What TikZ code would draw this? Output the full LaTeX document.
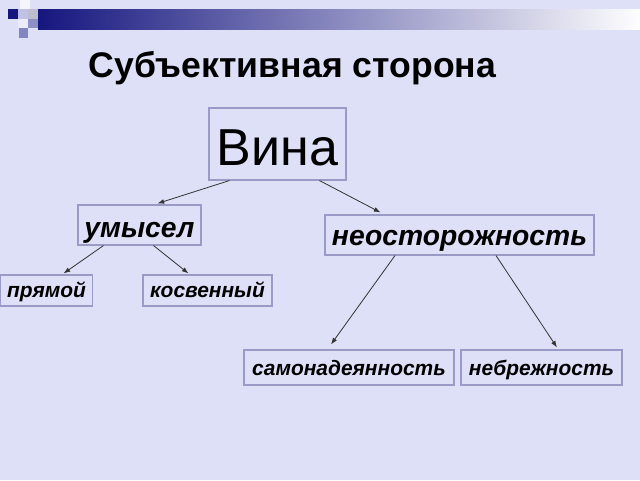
\documentclass[tikz,border=0pt]{standalone}
\usepackage{fontspec}
\setmainfont{Liberation Sans}
\usepackage{xcolor}
\usepackage{tikz}
\usetikzlibrary{calc,arrows.meta}
\definecolor{slidebg}{HTML}{DDE0F6}
\definecolor{navy}{HTML}{16167F}
\definecolor{boxline}{HTML}{9A9AC6}
\definecolor{arrowgray}{HTML}{333333}
\tikzset{
  box/.style={draw=boxline, line width=0.8pt, inner sep=0pt},
  bigtext/.style={font=\fontsize{21.2}{25}\selectfont\bfseries\itshape},
  smalltext/.style={font=\fontsize{15.7}{19}\selectfont\bfseries\itshape},
  link/.style={draw=arrowgray, line width=0.6pt, -{Latex[length=5pt,width=3.6pt]}}
}

\begin{document}
\begin{tikzpicture}[x=0.75pt,y=-0.75pt]
\useasboundingbox (0,0) rectangle (640,480);
\fill[slidebg] (0,0) rectangle (640,480);
\shade[left color=navy, right color=white!96!slidebg] (38,9) rectangle (640,29);
\fill[navy] (8,9) rectangle (18,19);
\fill[white!70!slidebg] (20,0) rectangle (30,9);
\fill[slidebg!85!navy] (18,9) rectangle (28,19);
\fill[slidebg!65!gray] (28,9) rectangle (38,19);
\fill[white!40!slidebg] (18,19) rectangle (28,28);
\fill[slidebg!60!navy] (28,19) rectangle (38,28);
\fill[slidebg!55!navy] (19,28) rectangle (28,38);

\node[anchor=base, font=\fontsize{26.7}{32}\selectfont\bfseries] (title) at (292.5,77) {Субъективная сторона};

\node[box, font=\fontsize{39}{44}\selectfont, minimum width=102.75pt, text height=42.75pt, text depth=11.25pt] (vina) at (277.5,144) {Вина};
\node[box, bigtext, minimum width=92.25pt, text height=24pt, text depth=6pt] (umysel) at (139.5,225) {умысел};
\node[box, bigtext, minimum width=201.75pt, text height=22.5pt, text depth=7.5pt] (neost) at (459.5,235) {неосторожность};
\node[box, smalltext, minimum width=69pt, text height=16.85pt, text depth=6.4pt] (pryamoj) at (46.5,290.5) {прямой};
\node[box, smalltext, minimum width=96.75pt, text height=16.85pt, text depth=6.4pt] (kosv) at (207.5,290.5) {косвенный};
\node[box, smalltext, minimum width=157.5pt, text height=18.75pt, text depth=7.5pt] (samo) at (349,367.5) {самонадеянность};
\node[box, smalltext, minimum width=120.75pt, text height=18.75pt, text depth=7.5pt] (nebr) at (541.5,367.5) {небрежность};

\draw[link] ($(vina.south west)+(21,0)$) -- ($(umysel.north)+(18,-1)$);
\draw[link] ($(vina.south west)+(111,0)$) -- ($(neost.north)+(-79,-2)$);
\draw[link] ($(umysel.south)+(-36,0)$) -- ($(pryamoj.north)+(17,-1)$);
\draw[link] ($(umysel.south)+(14,0)$) -- ($(kosv.north)+(-19,-1)$);
\draw[link] ($(neost.south)+(-64.5,0)$) -- ($(samo.north)+(-18,-5)$);
\draw[link] ($(neost.south)+(36.5,0)$) -- ($(nebr.north)+(15.5,-2)$);
\end{tikzpicture}
\end{document}
